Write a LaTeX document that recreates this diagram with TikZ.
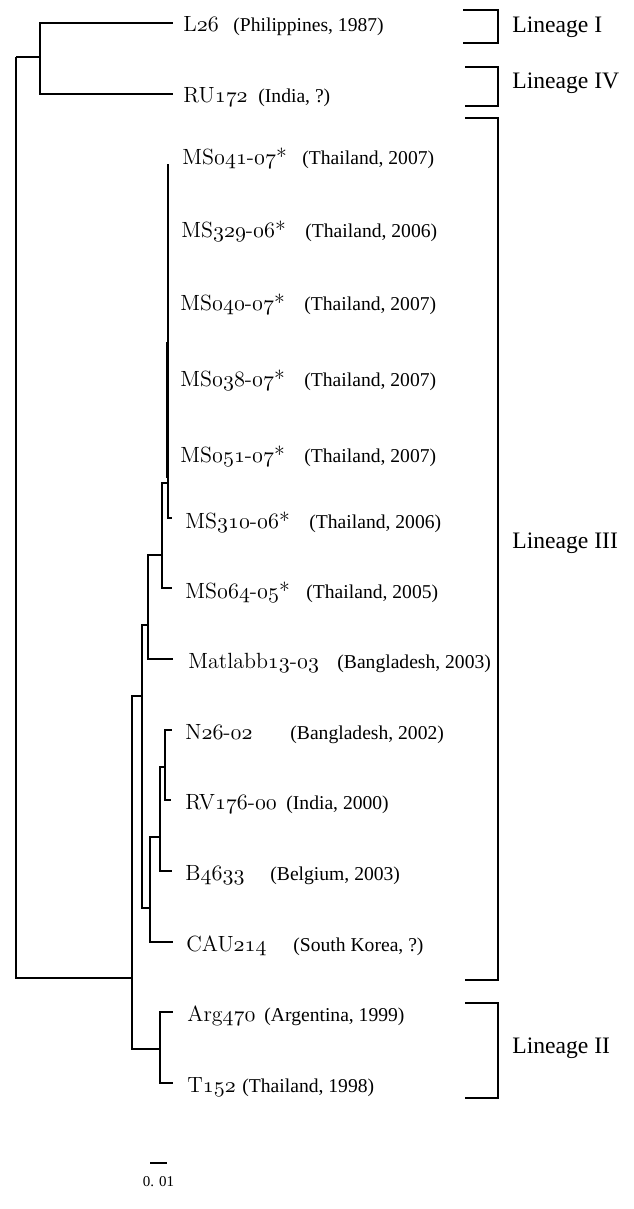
\documentclass[tikz,border=0pt]{standalone}
\usepackage{fontspec}
\newfontfamily\timesfont{Liberation Serif}
\usetikzlibrary{positioning}
\newcommand{\olds}[1]{\ensuremath{\mathnormal{#1}}}

\begin{document}
\begin{tikzpicture}[x=0.5pt,y=-0.5pt]
				\tikzstyle{branch}=[line width=1.2pt]
				\tikzstyle{bracket}=[line width=1.1pt]
				\tikzstyle{strain}=[anchor=base west,inner sep=0pt,font=\fontsize{11}{13}\selectfont]
				\tikzstyle{origin}=[anchor=base west,inner sep=0pt,font=\timesfont\fontsize{9.8}{12}\selectfont]
				\tikzstyle{lineage}=[anchor=base west,inner sep=0pt,font=\timesfont\fontsize{11.8}{14}\selectfont]
				\useasboundingbox (0,0) rectangle (633,1209);

				% internal nodes
				\coordinate (root) at (16,57);
				\coordinate (nA) at (40,57);
				\coordinate (nB) at (132,978);
				\coordinate (nC) at (142,696);
				\coordinate (nD) at (148,625);
				\coordinate (nF) at (162,555);
				\coordinate (nG) at (168,483);
				\coordinate (nE) at (150,908);
				\coordinate (nH) at (160,837);
				\coordinate (nI) at (165,767);
				\coordinate (nII) at (160,1049);

				% tips
				\coordinate (tL26) at (173,23);
				\coordinate (tRU172) at (173,94);
				\coordinate (tMS041) at (168,164);
				\coordinate (tMS329) at (168,235);
				\coordinate (tMS040) at (168,306);
				\coordinate (tMS038) at (168,376);
				\coordinate (tMS051) at (168,447);
				\coordinate (tMS310) at (172,518);
				\coordinate (tMS064) at (172,588);
				\coordinate (tMat) at (173,659);
				\coordinate (tN26) at (172,730);
				\coordinate (tRV176) at (171,800);
				\coordinate (tB4633) at (172,871);
				\coordinate (tCAU214) at (173,942);
				\coordinate (tArg470) at (173,1012);
				\coordinate (tT152) at (173,1083);
				\coordinate (msa) at (167,342);
				\coordinate (msb) at (167,478);

				% branches
				\draw[branch] (root) |- (nA);
				\draw[branch] (root) |- (nB);
				\draw[branch] (nA) |- (tL26);
				\draw[branch] (nA) |- (tRU172);
				\draw[branch] (nB) |- (nC);
				\draw[branch] (nB) |- (nII);
				\draw[branch] (nII) |- (tArg470);
				\draw[branch] (nII) |- (tT152);
				\draw[branch] (nC) |- (nD);
				\draw[branch] (nC) |- (nE);
				\draw[branch] (nD) |- (nF);
				\draw[branch] (nD) |- (tMat);
				\draw[branch] (nF) |- (nG);
				\draw[branch] (nF) |- (tMS064);
				\draw[branch] (nG) |- (tMS041);
				\draw[branch] (nG) |- (tMS310);
				\draw[branch] (msa) -- (msb);
				\draw[branch] (nE) |- (nH);
				\draw[branch] (nE) |- (tCAU214);
				\draw[branch] (nH) |- (nI);
				\draw[branch] (nH) |- (tB4633);
				\draw[branch] (nI) |- (tN26);
				\draw[branch] (nI) |- (tRV176);

				% labels
				\node[strain] (L26) at (183,32) {L\olds{26}};
				\node[origin] (L26o) at (233,32) {(Philippines, 1987)};
				\node[strain] (RU172) at (183,103) {RU\olds{172}};
				\node[origin] (RU172o) at (258,103) {(India, ?)};
				\node[strain] (MS041) at (182,165) {MS\olds{041}-\olds{07}*};
				\node[origin] (MS041o) at (302,165) {(Thailand, 2007)};
				\node[strain] (MS329) at (181,237) {MS\olds{329}-\olds{06}*};
				\node[origin] (MS329o) at (305,237) {(Thailand, 2006)};
				\node[strain] (MS040) at (180,310) {MS\olds{040}-\olds{07}*};
				\node[origin] (MS040o) at (304,310) {(Thailand, 2007)};
				\node[strain] (MS038) at (180,386) {MS\olds{038}-\olds{07}*};
				\node[origin] (MS038o) at (304,386) {(Thailand, 2007)};
				\node[strain] (MS051) at (180,462) {MS\olds{051}-\olds{07}*};
				\node[origin] (MS051o) at (304,462) {(Thailand, 2007)};
				\node[strain] (MS310) at (185,528) {MS\olds{310}-\olds{06}*};
				\node[origin] (MS310o) at (309,528) {(Thailand, 2006)};
				\node[strain] (MS064) at (185,598) {MS\olds{064}-\olds{05}*};
				\node[origin] (MS064o) at (306,598) {(Thailand, 2005)};
				\node[strain] (Mat) at (188,668) {Matlabb\olds{13}-\olds{03}};
				\node[origin] (Mato) at (337,668) {(Bangladesh, 2003)};
				\node[strain] (N26) at (185,739) {N\olds{26}-\olds{02}};
				\node[origin] (N26o) at (290,739) {(Bangladesh, 2002)};
				\node[strain] (RV176) at (185,809) {RV\olds{176}-\olds{00}};
				\node[origin] (RV176o) at (286,809) {(India, 2000)};
				\node[strain] (B4633) at (185,880) {B\olds{4633}};
				\node[origin] (B4633o) at (270,880) {(Belgium, 2003)};
				\node[strain] (CAU214) at (186,951) {CAU\olds{214}};
				\node[origin] (CAU214o) at (293,951) {(South Korea, ?)};
				\node[strain] (Arg470) at (187,1021) {Arg\olds{470}};
				\node[origin] (Arg470o) at (264,1021) {(Argentina, 1999)};
				\node[strain] (T152) at (187,1092) {T\olds{152}};
				\node[origin] (T152o) at (242,1092) {(Thailand, 1998)};

				% lineage brackets
				\coordinate (b1t) at (463,10);
				\coordinate (b1r) at (498,33);
				\coordinate (b1b) at (463,43);
				\draw[bracket] (b1t) -| (b1r) |- (b1b);
				\node[lineage, right=7pt of b1r, anchor=base west] (lin1) {Lineage I};
				\coordinate (b4t) at (465,67);
				\coordinate (b4r) at (498,89);
				\coordinate (b4b) at (465,106);
				\draw[bracket] (b4t) -| (b4r) |- (b4b);
				\node[lineage, right=7pt of b4r, anchor=base west] (lin4) {Lineage IV};
				\coordinate (b3t) at (465,118);
				\coordinate (b3r) at (498,548);
				\coordinate (b3b) at (465,980);
				\draw[bracket] (b3t) -| (b3r) |- (b3b);
				\node[lineage, right=7pt of b3r, anchor=base west] (lin3) {Lineage III};
				\coordinate (b2t) at (465,1003);
				\coordinate (b2r) at (498,1053);
				\coordinate (b2b) at (465,1098);
				\draw[bracket] (b2t) -| (b2r) |- (b2b);
				\node[lineage, right=7pt of b2r, anchor=base west] (lin2) {Lineage II};

				% scale bar
				\coordinate (sbl) at (150,1163);
				\coordinate (sbr) at (167,1163);
				\draw[branch] (sbl) -- (sbr);
				\node[font=\timesfont\fontsize{7.5}{9}\selectfont, below=3pt of sbl, anchor=north, xshift=4.25pt] (sbt) {0. 01};
\end{tikzpicture}
\end{document}
